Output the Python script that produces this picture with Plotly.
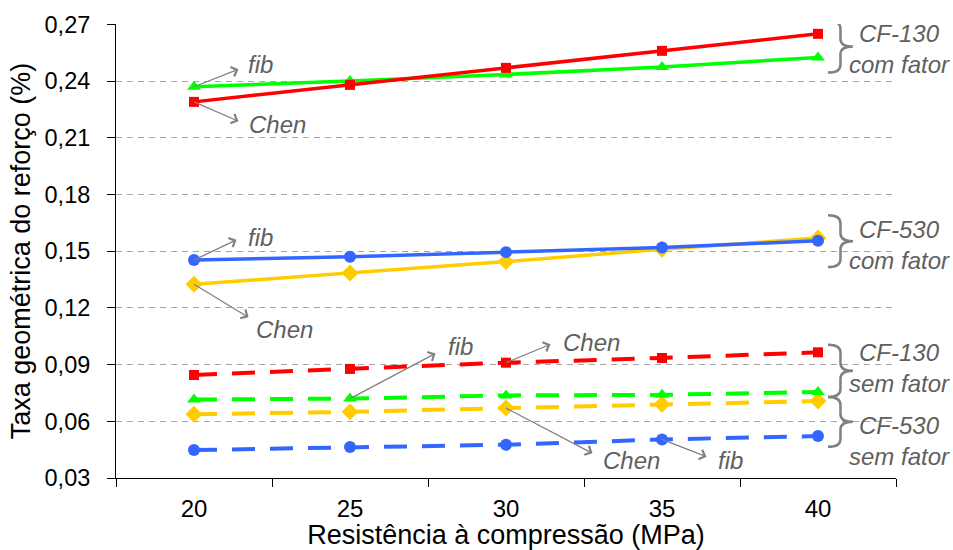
import plotly.graph_objects as go

# ---- data ----
resistencia = [20, 25, 30, 35, 40]
cf130_com_chen = [0.229, 0.238, 0.247, 0.256, 0.265]
cf130_com_fib = [0.237, 0.240, 0.2435, 0.2475, 0.2525]
cf530_com_fib = [0.1453, 0.147, 0.1495, 0.152, 0.1555]
cf530_com_chen = [0.1325, 0.1385, 0.1445, 0.151, 0.157]
cf130_sem_chen = [0.0845, 0.0877, 0.091, 0.0935, 0.0965]
cf130_sem_fib = [0.0715, 0.072, 0.0737, 0.074, 0.0755]
cf530_sem_chen = [0.0637, 0.065, 0.067, 0.069, 0.0707]
cf530_sem_fib = [0.0448, 0.0464, 0.0476, 0.0504, 0.0522]
y_ticks = [0.03, 0.06, 0.09, 0.12, 0.15, 0.18, 0.21, 0.24, 0.27]

RED = "#FF0000"
GREEN = "#00FF00"
YELLOW = "#FFCC00"
BLUE = "#3366FF"
GREY_TXT = "#5F5F5F"
GREY_ARR = "#808080"
FONT = "Liberation Sans"

fig = go.Figure()

def add(y, color, symbol, size, dashed):
    fig.add_trace(go.Scatter(
        x=resistencia, y=y, mode="lines+markers",
        line=dict(color=color, width=4 if dashed else 3.5,
                  dash="23px,15px" if dashed else "solid"),
        marker=dict(symbol=symbol, size=size, color=color),
        showlegend=False, hoverinfo="skip"))

add(cf530_sem_chen, YELLOW, "diamond", 13, True)
add(cf130_sem_fib, GREEN, "triangle-up", 12, True)
add(cf130_sem_chen, RED, "square", 10, True)
add(cf530_sem_fib, BLUE, "circle", 12, True)
add(cf530_com_chen, YELLOW, "diamond", 13, False)
add(cf530_com_fib, BLUE, "circle", 12, False)
add(cf130_com_fib, GREEN, "triangle-up", 12, False)
add(cf130_com_chen, RED, "square", 10, False)

annotations = []

def label(series, idx, text, arrow_dx, arrow_dy, txt_dx, txt_dy):
    xv, yv = resistencia[idx], series[idx]
    annotations.append(dict(
        x=xv, y=yv, xref="x", yref="y", text="", showarrow=True,
        ax=arrow_dx, ay=arrow_dy, arrowside="start", arrowhead=4,
        startarrowhead=4, arrowsize=1.5, startarrowsize=1.5,
        arrowwidth=1.3, arrowcolor=GREY_ARR, standoff=0, startstandoff=0))
    annotations.append(dict(
        x=xv, y=yv, xref="x", yref="y", text="<i>%s</i>" % text,
        showarrow=False, xanchor="left", yanchor="middle",
        xshift=txt_dx, yshift=-txt_dy,
        font=dict(family=FONT, size=24, color=GREY_TXT)))

label(cf130_com_fib, 0, "fib", 46, -18, 52, -22)
label(cf130_com_chen, 0, "Chen", 46, 20, 53, 23)
label(cf530_com_fib, 0, "fib", 44, -21, 52, -23)
label(cf530_com_chen, 0, "Chen", 56, 34, 60, 45)
label(cf130_sem_fib, 1, "fib", 87, -46, 96, -52)
label(cf130_sem_chen, 2, "Chen", 46, -19, 55, -20)
label(cf530_sem_chen, 2, "Chen", 88, 46, 95, 52)
label(cf530_sem_fib, 3, "fib", 46, 18, 54, 21)

# group labels with braces
groups = [
    ("CF-130<br>com fator", 0.2720, 0.2445, 0.2570),
    ("CF-530<br>com fator", 0.1690, 0.1416, 0.1533),
    ("CF-130<br>sem fator", 0.1005, 0.0729, 0.0882),
    ("CF-530<br>sem fator", 0.0729, 0.0465, 0.0494),
]
shapes = []
x0, xm, xt = 40.32, 40.72, 41.12
r = 0.0042
for text, ytop, ybot, ytxt in groups:
    ymid = (ytop + ybot) / 2
    path = (f"M {x0},{ytop} Q {xm},{ytop} {xm},{ytop - r} "
            f"L {xm},{ymid + r} Q {xm},{ymid} {xt},{ymid} "
            f"Q {xm},{ymid} {xm},{ymid - r} L {xm},{ybot + r} "
            f"Q {xm},{ybot} {x0},{ybot}")
    shapes.append(dict(type="path", path=path, xref="x", yref="y",
                       line=dict(color=GREY_ARR, width=2.5)))
    annotations.append(dict(
        x=1.005, xref="paper", y=ytxt, yref="y", text="<i>%s</i>" % text,
        showarrow=False, xanchor="center", yanchor="middle", align="center",
        font=dict(family=FONT, size=24, color=GREY_TXT)))

fig.update_layout(
    width=953, height=550,
    margin=dict(l=116, r=57, t=24, b=72, autoexpand=False),
    paper_bgcolor="white", plot_bgcolor="white",
    separators=", ",
    font=dict(family=FONT, size=24, color="black"),
    shapes=shapes, annotations=annotations,
    xaxis=dict(
        range=[17.5, 42.5], tickmode="array", tickvals=resistencia,
        ticktext=[str(v) for v in resistencia], ticks="",
        showgrid=False, zeroline=False, showline=True,
        linecolor="black", linewidth=1, automargin=False,
        minor=dict(tickmode="array", tickvals=[17.5, 22.5, 27.5, 32.5, 37.5, 42.5],
                   ticks="outside", ticklen=8, tickcolor="black", showgrid=False),
        tickfont=dict(size=24), ticklabelstandoff=9,
        title=dict(text="Resistência à compressão (MPa)", font=dict(size=27), standoff=8),
    ),
    yaxis=dict(
        range=[0.03, 0.2702], tickmode="array", tickvals=y_ticks,
        tickformat=".2f", ticks="outside", ticklen=8, tickcolor="black",
        showgrid=True, gridcolor="#A6A6A6", gridwidth=1, griddash="6px,5px",
        zeroline=False, showline=True, linecolor="black", linewidth=1,
        tickfont=dict(size=23.5), automargin=False, ticklabelstandoff=12,
        title=dict(text="Taxa geométrica do reforço (%)", font=dict(size=27), standoff=6),
    ),
)

fig.write_html("out.html", config={"displayModeBar": False},
               post_script="document.body.style.margin='0';document.body.style.padding='0';")
